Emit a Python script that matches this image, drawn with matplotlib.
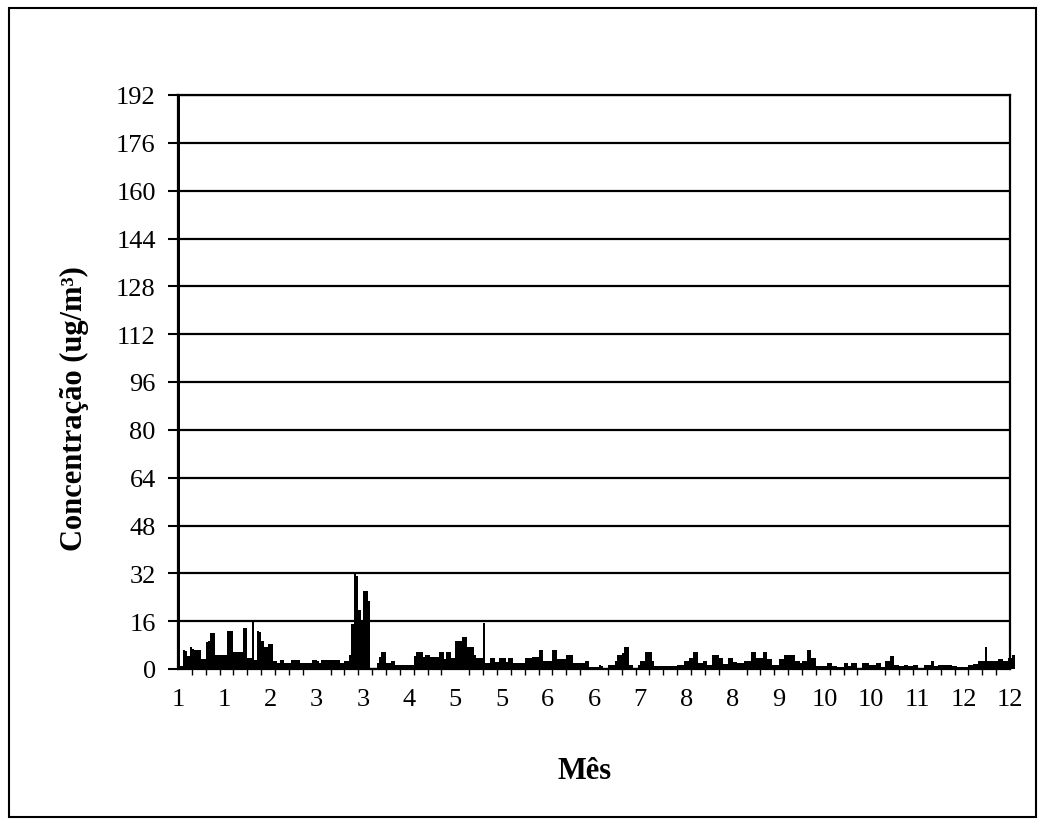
import matplotlib.pyplot as plt
from matplotlib.patches import Rectangle
import numpy as np

# daily concentration values (ug/m3), one bar per day
concentracao = [
    192, 1, 6.5, 6, 4.5, 7.3, 6.7, 6.5, 6.5, 6.5, 3.4, 3.4, 9, 9.2, 12, 12, 4.6, 4.6, 4.6, 4.6,
    4.6, 12.8, 12.8, 12.8, 5.6, 5.6, 5.6, 5.6, 13.6, 13.6, 3.7, 3.7, 16, 3, 12.8, 12.5, 9.2, 7.3, 7.3, 8.3,
    8.3, 2.8, 2.8, 2, 3, 3, 2, 2, 2, 3, 3, 3, 3, 2, 2, 1.9, 1.9, 1.9, 3, 3,
    2.6, 1.9, 3, 3, 3, 3, 3, 3, 3, 3, 2, 2, 2.8, 2.8, 4.6, 15.2, 31.7, 31.2, 19.8, 15.8,
    26.2, 26.2, 22.7, 0.4, 0.4, 0.4, 2, 4, 5.6, 5.6, 2, 2, 2.8, 2.8, 1.2, 1.2, 1.2, 1.2, 1.2, 1.2,
    1.2, 1.2, 4.5, 5.6, 5.6, 5.6, 4, 4.6, 4.6, 4, 4, 4, 4, 5.6, 5.6, 3.5, 5.6, 5.6, 3.7, 3.7,
    9.2, 9.2, 9.2, 10.8, 10.8, 7.3, 7.3, 7.3, 4.8, 3.7, 3.7, 3.7, 15.5, 2, 2, 3.7, 3.7, 2.3, 2.3, 3.7,
    3.7, 3.7, 2.5, 3.7, 3.7, 2, 2, 2, 2, 2, 3.7, 3.7, 3.7, 4, 4, 4, 6.5, 6.5, 2.8, 2.8,
    2.8, 2.8, 6.5, 6.5, 3.2, 3.2, 3.2, 3.2, 4.6, 4.6, 4.6, 2, 2, 2, 2, 2, 2.8, 2.8, 0.8, 0.8,
    0.8, 0.8, 1.2, 1, 0.5, 0.2, 1.2, 1.2, 1.2, 2.8, 4.8, 4.8, 5.4, 7.2, 7.2, 1.5, 1.5, 0, 0, 1.5,
    2.6, 2.6, 5.6, 5.6, 5.6, 2.6, 1, 1, 1, 1, 1, 1, 1, 1, 1, 1, 1.2, 1.2, 1.2, 2.8,
    2.8, 3.7, 3.7, 5.6, 5.6, 2, 2, 2.8, 2.8, 1.5, 1.5, 4.8, 4.8, 4.8, 3.7, 3.7, 1.7, 1.7, 3.7, 3.7,
    2.4, 2.4, 2, 2, 2, 2.8, 2.8, 2.8, 5.6, 5.6, 3.7, 3.7, 3.7, 5.6, 5.6, 3.2, 3.2, 1.2, 1.2, 1.2,
    3.2, 3.2, 4.8, 4.8, 4.8, 4.8, 4.8, 2.8, 2.8, 2, 2.8, 2.8, 6.5, 6.5, 3.7, 3.7, 1, 1, 1, 1,
    1, 2, 2, 1, 1, 0.7, 0.7, 0.7, 2, 2, 1, 2, 2, 2, 0.4, 0.4, 2, 2, 2, 1.2,
    1.2, 1.2, 2, 2, 0.7, 0.7, 2.6, 2.6, 4.5, 4.5, 1.5, 1.5, 1, 1, 1.5, 1.5, 1, 1, 1.5, 1.5,
    0.4, 0.4, 0.4, 1.2, 1.2, 1.2, 2.8, 1, 1, 1.2, 1.2, 1.2, 1.2, 1.2, 1.2, 1, 1, 0.7, 0.7, 0.7,
    0.7, 0.7, 1.2, 1.2, 1.7, 1.7, 2.8, 2.8, 2.8, 7.2, 2.6, 2.6, 2.8, 2.8, 2.8, 3.2, 3.2, 2.6, 2.6, 3.7,
    3.7, 4.8,
]

# month shown under every 20th day
mes_labels = ['1', '1', '2', '3', '3', '4', '5', '5', '6', '6', '7', '8', '8', '9',
              '10', '10', '11', '12', '12']
y_ticks = [0, 16, 32, 48, 64, 80, 96, 112, 128, 144, 160, 176, 192]

plt.rcParams['font.family'] = ['Liberation Serif', 'DejaVu Serif']

fig = plt.figure(figsize=(10.39, 8.28), dpi=100)
ax = fig.add_axes([178 / 1039, 1 - 670 / 828, 832 / 1039, 574 / 828])

dias = np.arange(len(concentracao))
ax.bar(dias, concentracao, width=1.0, align='edge', color='black', linewidth=0,
       clip_on=False, zorder=2)

ax.set_xlim(0, 360)
ax.set_ylim(0, 192)
ax.set_yticks(y_ticks)
ax.set_xticks(np.arange(0, 20 * len(mes_labels), 20))
ax.set_xticklabels(mes_labels)
ax.set_xticks(np.arange(0, 361, 6), minor=True)

ax.tick_params(axis='y', direction='out', length=7, width=1.5, pad=9, labelsize=19)
ax.tick_params(axis='x', which='major', length=0, pad=14, labelsize=19)
ax.tick_params(axis='x', which='minor', direction='out', length=4, width=1)

ax.yaxis.grid(True, color='black', linewidth=1.6)
ax.set_axisbelow(True)
for s in ax.spines.values():
    s.set_color('black')
    s.set_linewidth(1.6)

ax.set_ylabel('Concentração (ug/m³)', fontsize=22, fontweight='bold', ha='center', va='center')
ax.yaxis.set_label_coords(-0.124, 0.456)
ax.set_xlabel('Mês', fontsize=22, fontweight='bold', ha='center', va='center')
ax.xaxis.set_label_coords(0.489, -0.176)

# outer chart border
fig.patches.append(Rectangle((9 / 1039, 1 - 818 / 828), 1027 / 1039, 809 / 828,
                             transform=fig.transFigure, fill=False,
                             edgecolor='black', linewidth=1.5))

plt.savefig('out.png', dpi=100)
plt.close()
